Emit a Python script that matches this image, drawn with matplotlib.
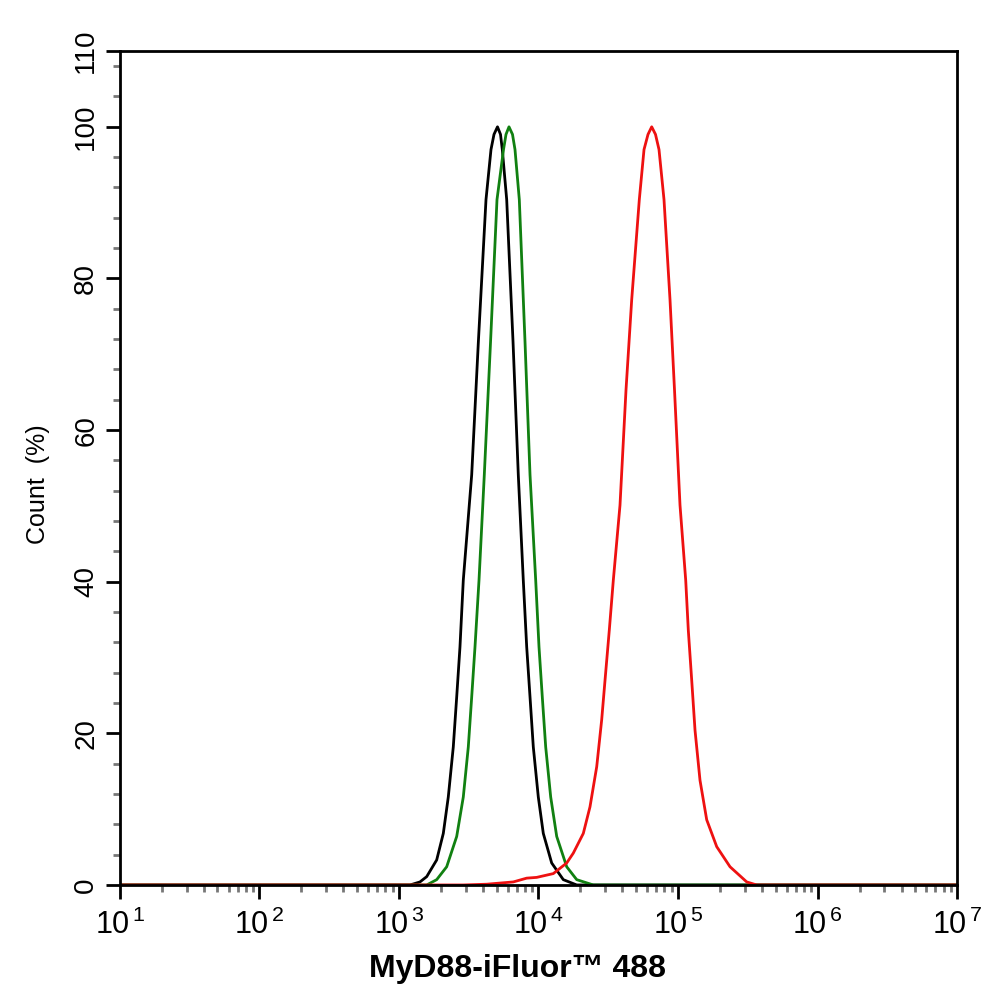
import matplotlib.pyplot as plt
import numpy as np

plt.rcParams['font.family'] = ['Liberation Sans', 'DejaVu Sans']
plt.rcParams['mathtext.fontset'] = 'custom'
plt.rcParams['mathtext.rm'] = 'Liberation Sans'

# fluorescence intensity (x) and count % (y)
black_x = [10, 1200, 1414, 1580, 1863, 2078, 2256, 2450, 2592, 2736, 2890, 3320, 3703,
           4204, 4565, 4797, 5082, 5341, 5502, 5916, 6566, 7164, 7780, 8230,
           8693, 9178, 9968, 10825, 12430, 15060, 18790, 1e7]
black_y = [0, 0, 0.4, 1.1, 3.3, 6.8, 11.6, 18.2, 24.8, 31.4, 40.2, 54.1, 71.5,
           90.4, 97, 99, 100, 99, 97, 90.4, 71.7, 54.1, 40.2, 31.4,
           24.8, 18.2, 11.6, 6.8, 2.9, 0.7, 0, 0]

green_x = [10, 1580, 1863, 2197, 2592, 2890, 3139, 3320, 3506, 3746, 4088, 4528,
           5041, 5613, 5848, 6145, 6511, 6785, 7285, 8002, 8693, 9548, 10083,
           10646, 11261, 12230, 13506, 15930, 18790, 24710, 1e7]
green_y = [0, 0, 0.7, 2.4, 6.4, 11.6, 18.2, 24.8, 31.4, 40.2, 54.1, 71.5,
           90.4, 97, 99, 100, 99, 97, 90.4, 71.7, 54.1, 40.2, 31.4,
           24.8, 18.2, 11.6, 6.4, 2.4, 0.7, 0, 0]

red_x = [10, 2890, 4253, 6598, 8230, 9707, 12770, 15930, 17760, 20950, 23390,
         26140, 28380, 29980, 32170, 34380, 38390, 42390, 46570, 52800, 57060,
         60950, 64780, 68970, 73080, 79360, 87630, 94380, 103350, 113560,
         118530, 125380, 132430, 143790, 160580, 189450, 235960, 310850,
         366600, 1e7]
red_y = [0, 0, 0.1, 0.4, 0.9, 1.0, 1.5, 2.9, 4.2, 6.8, 10.3,
         15.6, 21.8, 27, 33.6, 40.2, 50.1, 65.3, 77.2, 90.4, 97,
         99, 100, 99, 97, 90.4, 77.2, 65.3, 50.1, 40.2,
         33.6, 27, 20.4, 13.8, 8.6, 5.05, 2.4, 0.4,
         0, 0]

y_ticks = [0, 20, 40, 60, 80, 100, 110]
x_ticks = [1e1, 1e2, 1e3, 1e4, 1e5, 1e6, 1e7]
x_labels = [r'$\mathregular{10^{\,%d}}$' % k for k in range(1, 8)]

fig = plt.figure(figsize=(9.94, 10.02), dpi=100)
ax = fig.add_axes([0.1207, 0.1168, 0.8421, 0.8323])

ax.plot(black_x, black_y, color='black', lw=2)
ax.plot(green_x, green_y, color='#118011', lw=2)
ax.plot(red_x, red_y, color='#ee1111', lw=2)

ax.set_xscale('log')
ax.set_xlim(1e1, 1e7)
ax.set_ylim(0, 110)

ax.set_xticks(x_ticks)
ax.set_xticklabels(x_labels, fontsize=22)
ax.set_yticks(y_ticks)
ax.set_yticklabels([str(v) for v in y_ticks], fontsize=20)
ax.set_yticks(np.arange(0, 110, 4), minor=True)
ax.xaxis.set_minor_locator(plt.matplotlib.ticker.LogLocator(base=10, subs=np.arange(2, 10)))
ax.xaxis.set_minor_formatter(plt.NullFormatter())

ax.tick_params(which='major', direction='out', length=10, width=2, color='black', pad=8)
ax.tick_params(axis='y', which='major', labelrotation=90, pad=5)
ax.tick_params(which='minor', direction='out', length=5, width=2, color='#777777')
for lbl in ax.get_yticklabels():
    lbl.set_va('center')

for s in ax.spines.values():
    s.set_linewidth(2)

ax.set_ylabel('Count  (%)', fontsize=18, labelpad=17)
ax.set_xlabel('MyD88-iFluor™ 488', fontsize=23, fontweight='bold', labelpad=9)
ax.xaxis.label.set_x(0.475)
ax.yaxis.label.set_y(0.48)

fig.savefig('out.png', dpi=100)
